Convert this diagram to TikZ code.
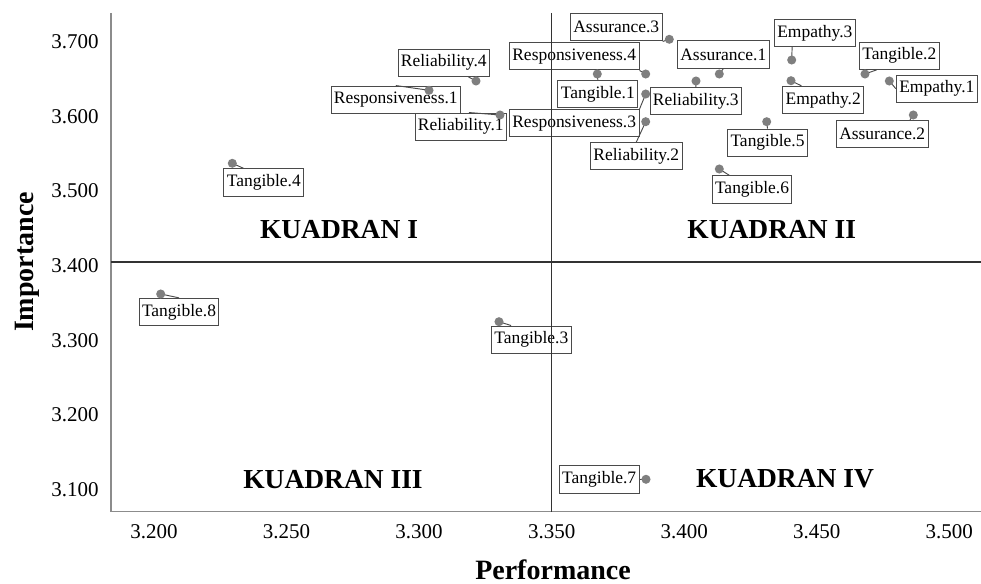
\documentclass[tikz,border=0pt]{standalone}
\usepackage{xcolor}
\usepackage{fontspec}
\setmainfont{Liberation Serif}
\usepackage{tikz}
\definecolor{axisgray}{HTML}{8C8C8C}
\definecolor{dotgray}{HTML}{7F7F7F}
\definecolor{boxgray}{HTML}{4A4A4A}
\tikzstyle{datapoint}=[fill=dotgray, draw=none, shape=circle, minimum size=6.8pt, inner sep=0pt]
\tikzstyle{lbl}=[draw=boxgray, line width=0.75pt, shape=rectangle, minimum height=20.5pt, inner xsep=2.2pt, inner ysep=0pt, font=\fontsize{13.1}{15}\selectfont]
\tikzstyle{leader}=[-, draw=boxgray, line width=0.7pt]
\tikzstyle{axis line}=[-, draw=axisgray, line width=0.8pt]
\tikzstyle{quad line}=[-, draw=black!80, line width=0.9pt]
\tikzstyle{quad}=[font=\fontsize{20.6}{24}\selectfont\bfseries, anchor=base]
\tikzstyle{ticklabel}=[font=\fontsize{15.75}{18}\selectfont]
\tikzstyle{axis title}=[font=\fontsize{21}{25}\selectfont\bfseries, anchor=base]
\pgfdeclarelayer{nodelayer}
\pgfdeclarelayer{edgelayer}
\pgfsetlayers{edgelayer,nodelayer,main}

\begin{document}
\begin{tikzpicture}[x=0.75pt, y=-0.75pt]
	\useasboundingbox (0,0) rectangle (981,584);
	% axes and quadrant lines
	\coordinate (top) at (111,13);
	\coordinate (origin) at (111,511.7);
	\coordinate (right) at (981,511.7);
	\coordinate (vtop) at (551.7,13);
	\coordinate (vbot) at (551.7,511.7);
	\coordinate (hleft) at (111,262);
	\coordinate (hright) at (981,262);
	\draw [style=axis line] (top) -- (origin) -- (right);
	\draw [style=quad line] (vtop) -- (vbot);
	\draw [style=quad line] (hleft) -- (hright);
	% tick labels
	\foreach \v [count=\i from 0] in {3.200,3.250,3.300,3.350,3.400,3.450,3.500}
		\node [style=ticklabel, anchor=base] (xt\i) at ({154+\i*132.55},538.3) {\v};
	\foreach \v [count=\i from 0] in {3.700,3.600,3.500,3.400,3.300,3.200,3.100}
		\node [style=ticklabel, anchor=base east] (yt\i) at (103.3,{48.4+\i*74.7}) {\v};
	\node [style=axis title] (perf) at (553,579.5) {Performance};
	\node [style=axis title, rotate=90] (imp) at (33.3,262) {Importance};
	% quadrants
	\node [style=quad] (q1) at (339,239) {KUADRAN I};
	\node [style=quad] (q2) at (771.7,238.3) {KUADRAN II};
	\node [style=quad] (q3) at (333,488.5) {KUADRAN III};
	\node [style=quad] (q4) at (785,487.3) {KUADRAN IV};
	\begin{pgfonlayer}{nodelayer}
		\node [style=lbl] (t1l) at (597.8,94) {Tangible.1};
		\node [style=lbl] (t2l) at (899.3,55.7) {Tangible.2};
		\node [style=lbl] (t3l) at (531.3,339.7) {Tangible.3};
		\node [style=lbl] (t4l) at (263.8,182.5) {Tangible.4};
		\node [style=lbl] (t5l) at (767.5,142.7) {Tangible.5};
		\node [style=lbl] (t6l) at (752,189.5) {Tangible.6};
		\node [style=lbl] (t7l) at (599.2,479.5) {Tangible.7};
		\node [style=lbl] (t8l) at (179,312) {Tangible.8};
		\node [style=lbl] (rl1l) at (460.8,126.7) {Reliability.1};
		\node [style=lbl] (rl2l) at (636.3,156.3) {Reliability.2};
		\node [style=lbl] (rl3l) at (695.8,101.2) {Reliability.3};
		\node [style=lbl] (rl4l) at (443.8,62.7) {Reliability.4};
		\node [style=lbl] (rs1l) at (395.8,99.7) {Responsiveness.1};
		\node [style=lbl] (rs3l) at (574.2,123.3) {Responsiveness.3};
		\node [style=lbl] (rs4l) at (574.2,56.3) {Responsiveness.4};
		\node [style=lbl] (a1l) at (723.3,54.5) {Assurance.1};
		\node [style=lbl] (a2l) at (882.2,134) {Assurance.2};
		\node [style=lbl] (a3l) at (616.3,27.3) {Assurance.3};
		\node [style=lbl] (e1l) at (936.8,88.7) {Empathy.1};
		\node [style=lbl] (e2l) at (823.2,100) {Empathy.2};
		\node [style=lbl] (e3l) at (814.8,33) {Empathy.3};
		\node [style=datapoint] (t1) at (597.3,74) {};
		\node [style=datapoint] (t2) at (865,74) {};
		\node [style=datapoint] (t3) at (499,321.7) {};
		\node [style=datapoint] (t4) at (232.3,163.3) {};
		\node [style=datapoint] (t5) at (766.7,121.7) {};
		\node [style=datapoint] (t6) at (719.3,169) {};
		\node [style=datapoint] (t7) at (646,479.3) {};
		\node [style=datapoint] (t8) at (160.7,294) {};
		\node [style=datapoint] (rl1) at (500,115) {};
		\node [style=datapoint] (rl2) at (645.7,121.7) {};
		\node [style=datapoint] (rl3) at (696,81) {};
		\node [style=datapoint] (rl4) at (476,81) {};
		\node [style=datapoint] (rs1) at (429,90.3) {};
		\node [style=datapoint] (rs3) at (645.7,94) {};
		\node [style=datapoint] (rs4) at (645.7,74) {};
		\node [style=datapoint] (a1) at (719.3,74) {};
		\node [style=datapoint] (a2) at (913.3,115) {};
		\node [style=datapoint] (a3) at (669.3,39.3) {};
		\node [style=datapoint] (e1) at (889.3,81) {};
		\node [style=datapoint] (e2) at (791,80.7) {};
		\node [style=datapoint] (e3) at (791.7,60) {};
	\end{pgfonlayer}
	\begin{pgfonlayer}{edgelayer}
		\draw [style=leader] (t1.center) to (t1l.north);
		\draw [style=leader] (t2.center) to (t2l.212);
		\draw [style=leader] (t3.center) to (t3l.145);
		\draw [style=leader] (t4.center) to (t4l.145);
		\draw [style=leader] (t5.center) to (t5l.north);
		\draw [style=leader] (t6.center) to (t6l.148);
		\draw [style=leader] (t7.center) to (t7l.east);
		\draw [style=leader] (t8.center) to (t8l.north);
		\draw [style=leader] (rl1.center) to (rl1l.60);
		\draw [style=leader] (rl2.center) to (rl2l.north);
		\draw [style=leader] (rl3.center) to (rl3l.north);
		\draw [style=leader] (rl4.center) to (rl4l.330);
		\draw [style=leader] (rs1.center) to (rs1l.north);
		\draw [style=leader] (rs3.center) to (rs3l.north east);
		\draw [style=leader] (rs4.center) to (rs4l.south east);
		\draw [style=leader] (a1.center) to (a1l.south);
		\draw [style=leader] (a2.center) to (a2l.27);
		\draw [style=leader] (a3.center) to (a3l.south east);
		\draw [style=leader] (e1.center) to (e1l.west);
		\draw [style=leader] (e2.center) to (e2l.147);
		\draw [style=leader] (e3.center) to (e3l.212);
	\end{pgfonlayer}
\end{tikzpicture}
\end{document}
